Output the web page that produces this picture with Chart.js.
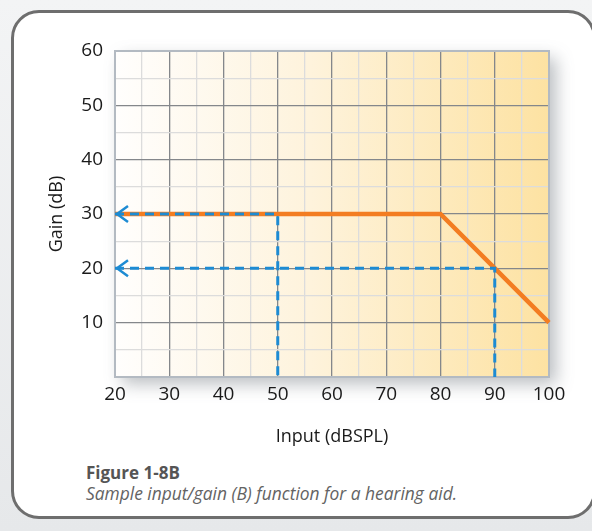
<!DOCTYPE html>
<html>
<head>
<meta charset="utf-8">
<script src="https://cdn.jsdelivr.net/npm/chart.js@4/dist/chart.umd.min.js"></script>
<style>
  html, body { margin: 0; padding: 0; }
  body { width: 592px; height: 531px; background: linear-gradient(#f3f4f5, #e6e8ea); position: relative; overflow: hidden; }
  .card { position: absolute; left: 11px; top: 10px; width: 585px; height: 509px; background: #fff;
          border: 3px solid #6e6e6e; border-radius: 28px; box-sizing: border-box; }
  #chart { position: absolute; left: 0; top: 0; }
  .caption { position: absolute; left: 86px; top: 462px; font-family: "Open Sans", sans-serif; color: #636363; font-size: 17.4px; line-height: 20px; }
  .caption b { font-weight: 700; font-size: 17px; color: #555; }
  .caption i { font-style: italic; }
</style>
</head>
<body>
<div class="card"></div>
<canvas id="chart" width="592" height="460"></canvas>
<div class="caption"><b>Figure 1-8B</b><br><i>Sample input/gain (B) function for a hearing aid.</i></div>
<script>
// input/gain function
const inputLevels = [20, 80, 100];
const gainValues = [30, 30, 10];
// guide lines (dashed)
const guide50Input = [20, 50, 50];
const guide50Gain = [30, 30, 0];
const guide90Input = [20, 90, 90];
const guide90Gain = [20, 20, 0];
// axes
const xTickLabels = [20, 30, 40, 50, 60, 70, 80, 90, 100];
const yTickLabels = [10, 20, 30, 40, 50, 60];

function toPoints(xs, ys) {
	return xs.map((x, i) => ({ x: x, y: ys[i] }));
}

const BLUE = '#1d8bd3';
const ORANGE = '#f37d22';

// background gradient + shadow under the plot
const plotBackground = {
	id: 'plotBackground',
	beforeDraw(chart) {
		const { ctx, chartArea: a } = chart;
		ctx.save();
		ctx.shadowColor = 'rgba(60,70,80,0.35)';
		ctx.shadowBlur = 16;
		ctx.shadowOffsetX = 7;
		ctx.shadowOffsetY = 7;
		const g = ctx.createLinearGradient(a.left, 0, a.right, 0);
		g.addColorStop(0, '#fffefd');
		g.addColorStop(0.45, '#fef3dc');
		g.addColorStop(1, '#fde2a2');
		ctx.fillStyle = g;
		ctx.fillRect(a.left, a.top, a.width, a.height);
		ctx.restore();
	},
	beforeDatasetsDraw(chart) {
		const { ctx, chartArea: a } = chart;
		ctx.save();
		ctx.strokeStyle = '#b3bac2';
		ctx.lineWidth = 2;
		ctx.strokeRect(a.left, a.top, a.width, a.height);
		ctx.restore();
	}
};

// open arrow heads at the start of the guide lines
const guideArrows = {
	id: 'guideArrows',
	afterDatasetsDraw(chart) {
		const { ctx } = chart;
		const xs = chart.scales.x, ys = chart.scales.y;
		[[guide50Input[0], guide50Gain[0]], [guide90Input[0], guide90Gain[0]]].forEach(p => {
			const px = xs.getPixelForValue(p[0]) + 2;
			const py = ys.getPixelForValue(p[1]);
			ctx.save();
			ctx.strokeStyle = BLUE;
			ctx.lineWidth = 2.5;
			ctx.beginPath();
			ctx.moveTo(px + 11, py - 8);
			ctx.lineTo(px, py);
			ctx.lineTo(px + 11, py + 8);
			ctx.stroke();
			ctx.restore();
		});
	}
};

function gridColor(ctx) {
	const v = ctx.tick.value;
	if (ctx.index === 0 || ctx.index === ctx.scale.ticks.length - 1) return 'rgba(0,0,0,0)';
	return v % 10 === 0 ? '#84878b' : '#dcdcdc';
}

const tickFont = { family: 'Open Sans', size: 19 };
const titleFont = { family: 'Open Sans', size: 18 };

const chart = new Chart(document.getElementById('chart'), {
	type: 'line',
	data: {
		datasets: [{
			data: toPoints(guide50Input, guide50Gain),
			borderColor: BLUE,
			borderWidth: 3,
			borderDash: [9, 6],
			pointRadius: 0,
			clip: false
		}, {
			data: toPoints(guide90Input, guide90Gain),
			borderColor: BLUE,
			borderWidth: 3,
			borderDash: [9, 6],
			pointRadius: 0,
			clip: false
		}, {
			data: toPoints(inputLevels, gainValues),
			borderColor: ORANGE,
			borderWidth: 4.5,
			pointRadius: 0,
			clip: false
		}]
	},
	options: {
		responsive: false,
		animation: false,
		devicePixelRatio: 1,
		layout: { padding: { left: 44, top: 51, right: 43, bottom: 8 } },
		plugins: { legend: { display: false }, tooltip: { enabled: false } },
		scales: {
			x: {
				type: 'linear',
				min: 20, max: 100,
				afterBuildTicks: s => {
					const t = [];
					for (let v = 20; v <= 100; v += 5) t.push({ value: v });
					s.ticks = t;
				},
				afterFit: s => { s.height = 75; },
				border: { display: false },
				grid: { color: gridColor, lineWidth: 1.3, drawTicks: false },
				ticks: {
					autoSkip: false, maxRotation: 0, padding: 6, color: '#1a1a1a', font: tickFont,
					callback: v => xTickLabels.includes(v) ? String(v) : ''
				},
				title: { display: true, text: 'Input (dBSPL)', color: '#1a1a1a', font: titleFont, padding: { top: 4, bottom: 4 } }
			},
			y: {
				min: 0, max: 60,
				afterBuildTicks: s => {
					const t = [];
					for (let v = 0; v <= 60; v += 5) t.push({ value: v });
					s.ticks = t;
				},
				afterFit: s => { s.width = 71; },
				border: { display: false },
				grid: { color: gridColor, lineWidth: 1.3, drawTicks: false },
				ticks: {
					autoSkip: false, padding: 12, color: '#1a1a1a', font: tickFont,
					callback: v => yTickLabels.includes(v) ? String(v) : ''
				},
				title: { display: true, text: 'Gain (dB)', color: '#1a1a1a', font: titleFont, padding: { top: 2, bottom: 2 } }
			}
		}
	},
	plugins: [plotBackground, guideArrows]
});
</script>
</body>
</html>
